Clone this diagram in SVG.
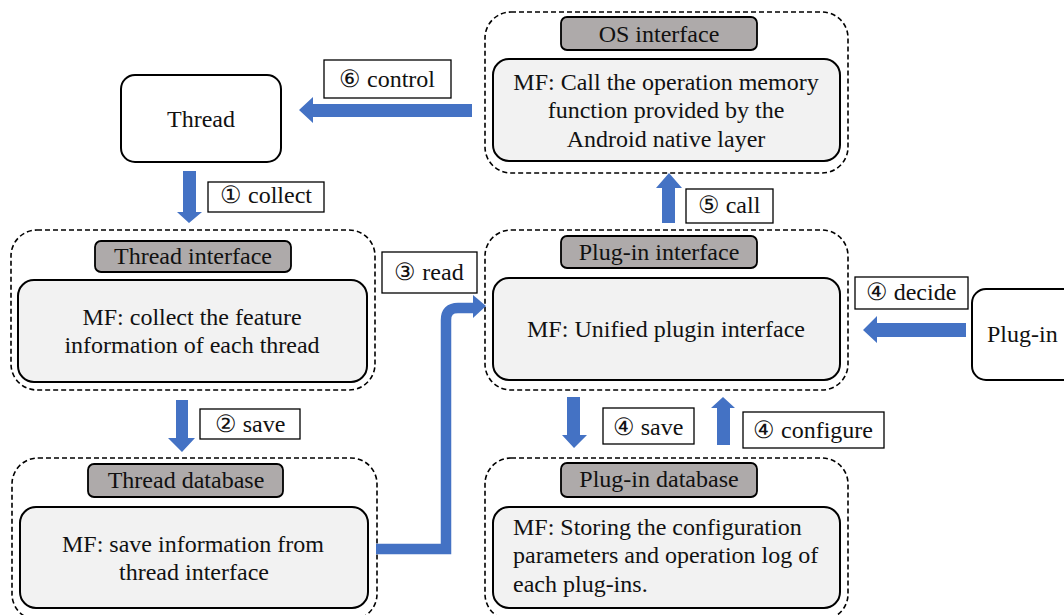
<svg xmlns="http://www.w3.org/2000/svg" width="1064" height="615" viewBox="0 0 1064 615">
<defs>
<style>
.outer{fill:none;stroke:#000;stroke-width:1.6;stroke-dasharray:5,3}
.inner{fill:#f2f2f2;stroke:#000;stroke-width:2}
.tag{fill:#aeaaaa;stroke:#000;stroke-width:1.8}
.plain{fill:#fff;stroke:#000;stroke-width:2}
.lab{fill:#fff;stroke:#000;stroke-width:1.3}
text{font-family:"Liberation Serif","Times New Roman","DejaVu Serif",serif;font-size:24px;fill:#111;text-anchor:middle}
.arr{fill:#4472c4}
</style>
</defs>
<rect width="1064" height="615" fill="#fff"/>

<g id="thread">
<rect class="plain" x="121" y="75" width="160" height="87" rx="14"/>
<text x="201" y="127">Thread</text>
</g>

<g id="os-interface">
<rect class="outer" x="485" y="12" width="363" height="161" rx="26"/>
<rect class="tag" x="561" y="17" width="196" height="33" rx="6"/>
<text x="659" y="42">OS interface</text>
<rect class="inner" x="493" y="59" width="347" height="102" rx="16"/>
<text x="666" y="90">MF: Call the operation memory</text>
<text x="666" y="118">function provided by the</text>
<text x="666" y="147">Android native layer</text>
</g>

<g id="thread-interface">
<rect class="outer" x="11" y="230" width="364" height="160" rx="26"/>
<rect class="tag" x="95" y="241" width="196" height="31" rx="6"/>
<text x="193" y="264">Thread interface</text>
<rect class="inner" x="18" y="280" width="349" height="102" rx="16"/>
<text x="192" y="325">MF: collect the feature</text>
<text x="192" y="353">information of each thread</text>
</g>

<g id="plugin-interface">
<rect class="outer" x="485" y="230" width="363" height="160" rx="26"/>
<rect class="tag" x="561" y="236" width="196" height="32" rx="6"/>
<text x="659" y="260">Plug-in interface</text>
<rect class="inner" x="493" y="278" width="347" height="102" rx="16"/>
<text x="666" y="337">MF: Unified plugin interface</text>
</g>

<g id="plugin">
<rect class="plain" x="972" y="289" width="110" height="91" rx="14"/>
<text x="987" y="342" style="text-anchor:start">Plug-in</text>
</g>

<g id="thread-database">
<rect class="outer" x="12" y="458" width="365" height="162" rx="26"/>
<rect class="tag" x="88" y="464" width="195" height="33" rx="6"/>
<text x="186" y="488">Thread database</text>
<rect class="inner" x="20" y="507" width="348" height="101" rx="16"/>
<text x="193" y="552">MF: save information from</text>
<text x="194" y="580">thread interface</text>
</g>

<g id="plugin-database">
<rect class="outer" x="485" y="458" width="363" height="162" rx="26"/>
<rect class="tag" x="561" y="463" width="196" height="34" rx="6"/>
<text x="659" y="487">Plug-in database</text>
<rect class="inner" x="493" y="507" width="347" height="101" rx="16"/>
<text x="513" y="535" style="text-anchor:start">MF: Storing the configuration</text>
<text x="513" y="563" style="text-anchor:start">parameters and operation log of</text>
<text x="513" y="592" style="text-anchor:start">each plug-ins.</text>
</g>

<g id="connectors">
<!-- 6 control -->
<polygon class="arr" points="472,104 313,104 313,97 299,110 313,123 313,117 472,117"/>
<rect class="lab" x="324" y="60" width="127" height="38"/>
<text x="387" y="87">⑥ control</text>
<!-- 1 collect -->
<polygon class="arr" points="183,171 196,171 196,212 202,212 189,223 177,212 183,212"/>
<rect class="lab" x="208" y="182" width="116" height="30"/>
<text x="266" y="203">① collect</text>
<!-- 5 call -->
<polygon class="arr" points="662,223 675,223 675,188 682,188 669,173 656,188 662,188"/>
<rect class="lab" x="686" y="189" width="87" height="34"/>
<text x="729" y="213">⑤ call</text>
<!-- 2 save -->
<polygon class="arr" points="176,400 188,400 188,438 195,438 182,452 168,438 176,438"/>
<rect class="lab" x="200" y="409" width="100" height="30"/>
<text x="250" y="432">② save</text>
<!-- 3 read -->
<path d="M376,549 H446 V320 Q446,308 458,308 H474" fill="none" stroke="#4472c4" stroke-width="10.5"/>
<polygon class="arr" points="473,295 486,306 473,318"/>
<rect class="lab" x="382" y="252" width="95" height="41"/>
<text x="429" y="280">③ read</text>
<!-- 4 decide -->
<polygon class="arr" points="966,323 877,323 877,316 863,330 877,343 877,337 966,337"/>
<rect class="lab" x="855" y="277" width="113" height="32"/>
<text x="911" y="300">④ decide</text>
<!-- 4 save -->
<polygon class="arr" points="567,397 580,397 580,435 587,435 574,448 562,435 567,435"/>
<rect class="lab" x="603" y="408" width="91" height="36"/>
<text x="648" y="435">④ save</text>
<!-- 4 configure -->
<polygon class="arr" points="717,445 730,445 730,408 735,408 723,397 711,408 717,408"/>
<rect class="lab" x="743" y="412" width="141" height="36"/>
<text x="813" y="438">④ configure</text>
</g>
</svg>
